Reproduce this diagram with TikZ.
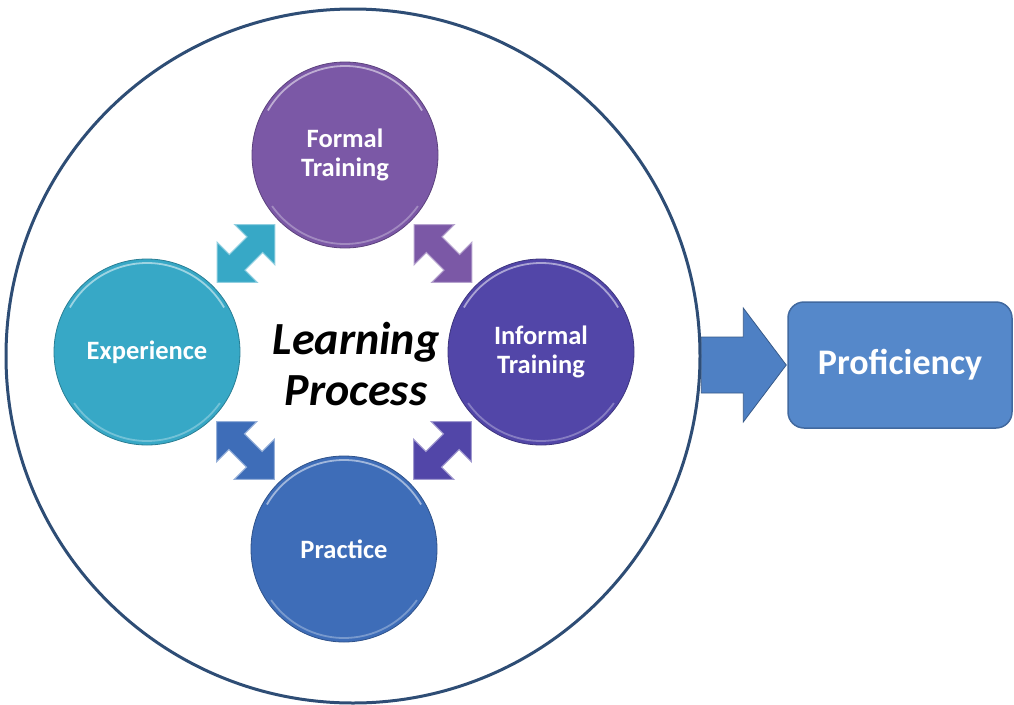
\documentclass[tikz,border=0pt]{standalone}
\usepackage{fontspec}
\setmainfont{Carlito}
\usetikzlibrary{calc}
\definecolor{cformal}{HTML}{7B58A6}
\definecolor{cinformal}{HTML}{5246A8}
\definecolor{cexp}{HTML}{37A8C6}
\definecolor{cprac}{HTML}{3E6DB8}
\definecolor{cring}{HTML}{2E4D75}
\definecolor{cbig}{HTML}{4E80C4}
\definecolor{cprof}{HTML}{5588CA}
\definecolor{cprofb}{HTML}{41699F}
\tikzset{
  ball/.style={circle, minimum size=186pt, inner sep=0pt, align=center, text=white,
    font=\bfseries\fontsize{26.5}{29}\selectfont, fill=#1, draw=#1!75!black, line width=0.8pt},
  rim/.style={draw=#1!40!white, line width=1.8pt, opacity=0.85},
  dbl/.style={fill=#1, draw=#1!55!white, line width=1pt, line join=miter},
}
\newcommand\dblarrow[4]{% colour, node a, node b, angle
  \begin{scope}[shift={($(#2)!0.5!(#3)$)}, rotate=#4]
    \path[dbl=#1] (-41,0) -- (-12.5,28.5) -- (-12.5,11) -- (12.5,11) -- (12.5,28.5) -- (41,0)
      -- (12.5,-28.5) -- (12.5,-11) -- (-12.5,-11) -- (-12.5,-28.5) -- cycle;
  \end{scope}}
\begin{document}
\begin{tikzpicture}[x=1pt,y=-1pt]
\useasboundingbox (0,0) rectangle (1014,704);
\node[circle, draw=cring, line width=3pt, minimum size=694pt, inner sep=0pt] (big) at (353,356) {};
% balls
\node[ball=cformal] (F) at (345,155) {Formal\\Training};
\node[ball=cexp] (E) at (147,352) {Experience};
\node[ball=cinformal] (I) at (541,352) {Informal\\Training};
\node[ball=cprac] (P) at (344,549) {Practice};
\foreach \n/\c in {F/cformal,E/cexp,I/cinformal,P/cprac}{
  \draw[rim=\c] ($(\n)+(150:89pt)$) arc[start angle=150, end angle=30, radius=89pt];
  \draw[rim=\c, opacity=0.5] ($(\n)+(-35:89pt)$) arc[start angle=-35, end angle=-145, radius=89pt];
}
% connectors
\dblarrow{cexp}{E}{F}{45}
\dblarrow{cformal}{F}{I}{-45}
\dblarrow{cprac}{E}{P}{-45}
\dblarrow{cinformal}{I}{P}{45}
% centre text
\node[font=\bfseries\itshape\fontsize{46}{51}\selectfont, align=center] (lp) at (356,364) {Learning\\Process};
% proficiency
\node[rounded corners=16pt, fill=cprof, draw=cprofb, line width=1.5pt, minimum width=224pt,
  minimum height=126pt, text=white, font=\bfseries\fontsize{36}{40}\selectfont] (prof) at (900,365) {Proficiency};
\begin{scope}[shift={(prof.west)}]
  \path[fill=cbig, draw=cbig!70!black, line width=0.8pt] (-86,-28) -- (-44,-28) -- (-44,-57) -- (-1,0)
    -- (-44,57) -- (-44,28) -- (-86,28) -- cycle;
\end{scope}
\end{tikzpicture}
\end{document}
